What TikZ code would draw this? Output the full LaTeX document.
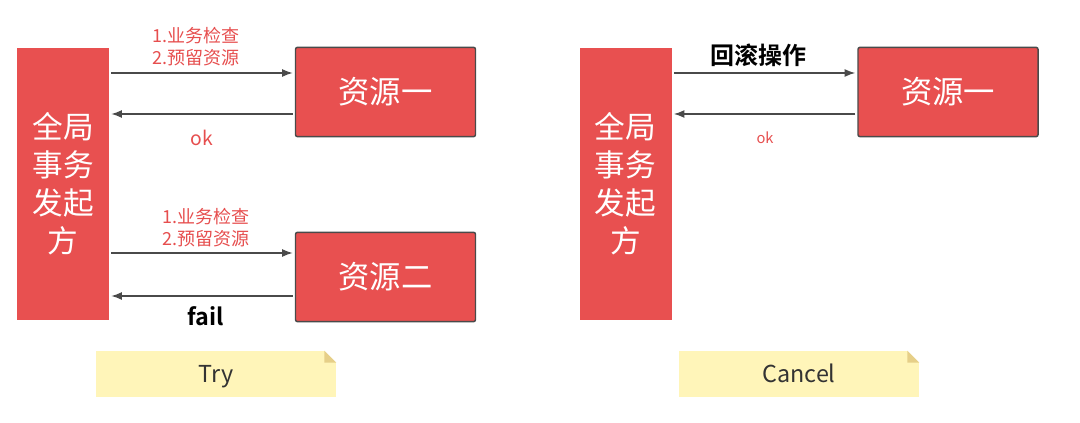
\documentclass[tikz,border=0pt]{standalone}
\usepackage{fontspec}
\setmainfont{Noto Sans CJK SC}[BoldFont={Noto Sans CJK SC Bold}]
\usetikzlibrary{arrows.meta,positioning,calc}
\definecolor{boxred}{HTML}{E85050}
\definecolor{txtred}{HTML}{E64E4E}
\definecolor{linegray}{HTML}{4A4A4A}
\definecolor{notefill}{HTML}{FFF5B9}
\definecolor{notefold}{HTML}{E6CF88}
\definecolor{notetxt}{HTML}{333333}

\begin{document}
\begin{tikzpicture}[x=0.75pt, y=-0.75pt,
  init/.style={fill=boxred, minimum width=69pt, minimum height=204pt, inner sep=0pt,
    align=center, text=white, font=\fontsize{23}{28.5}\selectfont},
  res/.style={draw=linegray, line width=1.1pt, fill=boxred, rounded corners=1.5pt,
    minimum width=135pt, minimum height=67pt, text=white, font=\fontsize{23.5}{27}\selectfont},
  arr/.style={draw=linegray, line width=1.1pt, -{Latex[length=8pt,width=6pt]}, shorten <=1.5pt, shorten >=1.5pt},
  lbl/.style={text=txtred, align=center, font=\fontsize{13.5}{16.5}\selectfont, inner sep=1pt},
  note/.style={fill=notefill, minimum width=180pt, minimum height=34.5pt, text=notetxt,
    text height=14pt, text depth=1.5pt, font=\fontsize{17.5}{20}\selectfont}]
\useasboundingbox (0,0) rectangle (1080,423);

% Try phase
\node[init] (tryinit) at (63,184) {全局\\事务\\发起\\方};
\node[res] (tryres1) at (385.5,92) {资源一};
\node[res] (tryres2) at (385.5,277) {资源二};
\draw[arr] ([yshift=14.25pt]tryres1.west -| tryinit.east) -- ([yshift=14.25pt]tryres1.west);
\draw[arr] ([yshift=-16.5pt]tryres1.west) -- ([yshift=-16.5pt]tryres1.west -| tryinit.east);
\draw[arr] ([yshift=18pt]tryres2.west -| tryinit.east) -- ([yshift=18pt]tryres2.west);
\draw[arr] ([yshift=-14.25pt]tryres2.west) -- ([yshift=-14.25pt]tryres2.west -| tryinit.east);
\node[lbl] (trychk1) at (196,47) {1.业务检查\\2.预留资源};
\node[lbl, font=\fontsize{14.5}{16}\selectfont] (tryok) at (202,138) {ok};
\node[lbl] (trychk2) at (206,228) {1.业务检查\\2.预留资源};
\node[font=\fontsize{17.5}{18}\bfseries] (tryfail) at (206,316) {fail};
\node[note] (trynote) at (216,374) {Try};

% Cancel phase
\node[init] (cxlinit) at (625.5,184) {全局\\事务\\发起\\方};
\node[res] (cxlres1) at (948,92) {资源一};
\draw[arr] ([yshift=14.25pt]cxlres1.west -| cxlinit.east) -- ([yshift=14.25pt]cxlres1.west);
\draw[arr] ([yshift=-16.5pt]cxlres1.west) -- ([yshift=-16.5pt]cxlres1.west -| cxlinit.east);
\node[font=\fontsize{18}{20}\bfseries] (cxlroll) at (758,55) {回滚操作};
\node[lbl, font=\fontsize{11}{12}\selectfont] (cxlok) at (765,138) {ok};
\node[note] (cxlnote) at (799,374) {Cancel};

% folded note corners
\foreach \n in {trynote, cxlnote} {
  \fill[white] (\n.north east) -- ++(-9pt,0) -- ++(9pt,-9pt) -- cycle;
  \fill[notefold] ([xshift=-9pt]\n.north east) -- ([yshift=-9pt]\n.north east) -- ([shift={(-9pt,-9pt)}]\n.north east) -- cycle;
}
\end{tikzpicture}
\end{document}
